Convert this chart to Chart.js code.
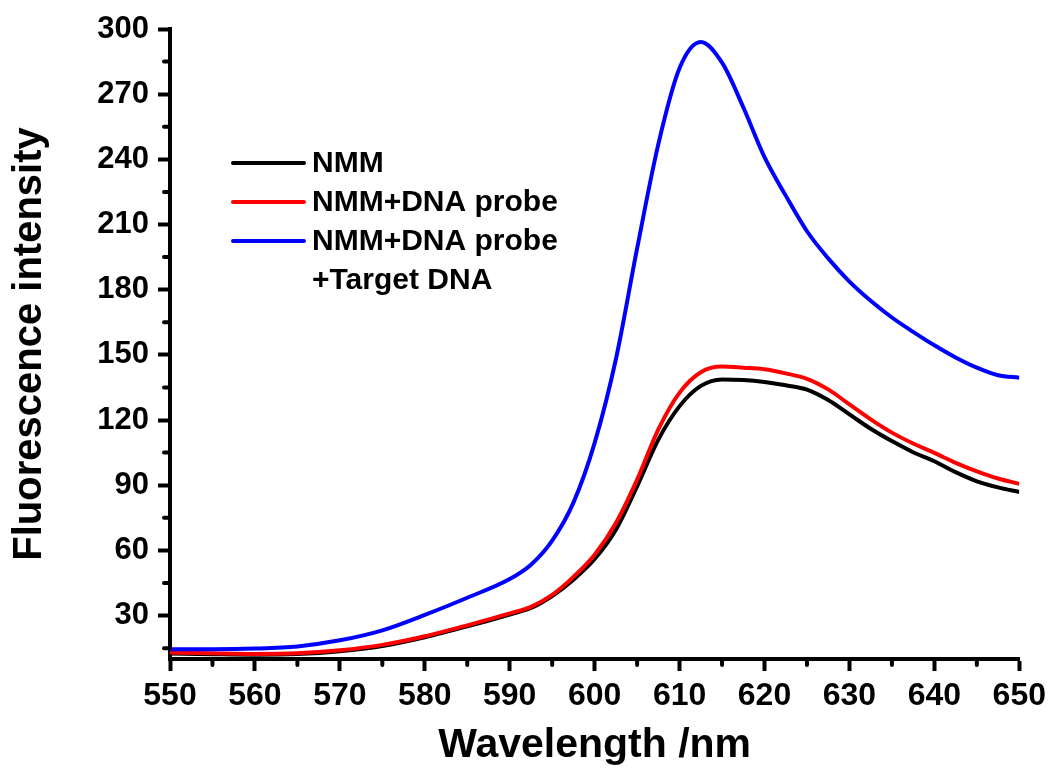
<!DOCTYPE html>
<html>
<head>
<meta charset="utf-8">
<script src="https://cdn.jsdelivr.net/npm/chart.js@4"></script>
<style>
  html, body { margin: 0; padding: 0; background: #fff; }
  #wrap { width: 1052px; height: 778px; }
</style>
</head>
<body>
<div id="wrap"><canvas id="chart" width="1052" height="778"></canvas></div>
<script>
// Fluorescence spectra
const wavelengths = [550, 555, 560, 565, 570, 575, 580, 585, 590, 592.5, 595, 597.5, 600, 602.5,
  605, 607.5, 610, 612.5, 615, 617.5, 620, 622.5, 625, 627.5, 630, 632.5, 635, 637.5,
  640, 642.5, 645, 647.5, 650];

const nmm = [12.5, 12.2, 12, 12.3, 13.6, 16, 20, 25, 30.5, 33.5, 39, 46.5, 56, 69.5,
  89.5, 111, 126.4, 135.7, 138.7, 138.4, 137.5, 136, 134, 129.2, 122.6, 116, 110.3, 105.2,
  101, 96, 91.8, 89, 86.9];

const nmmProbe = [13, 12.6, 12.3, 12.6, 14, 16.5, 20.5, 25.5, 31, 34, 39.5, 47.8, 58, 72.6,
  92.6, 115.7, 132.6, 142, 144.6, 144.1, 143.4, 141.5, 139, 134.1, 127.2, 120.3, 114.2, 109.2,
  104.9, 100.3, 96.4, 93.1, 90.6];

const nmmProbeTarget = [14.5, 14.5, 14.8, 15.8, 18.6, 23.2, 30.3, 38.2, 46.8, 53.4, 64.5, 82, 109.5, 148,
  199, 247, 282, 294, 284.5, 264, 241, 223.3, 206.9, 194.4, 183.7, 174.9, 167.2, 160.6,
  154.4, 148.8, 144.1, 140.6, 139.5];

const seriesLabels = [['NMM'], ['NMM+DNA probe'], ['NMM+DNA probe', '+Target DNA']];

const xTicks = [550, 560, 570, 580, 590, 600, 610, 620, 630, 640, 650];
const xMinorTicks = [555, 565, 575, 585, 595, 605, 615, 625, 635, 645];
const yTicks = [30, 60, 90, 120, 150, 180, 210, 240, 270, 300];
const yMinorTicks = [15, 45, 75, 105, 135, 165, 195, 225, 255, 285];

const FAMILY = '"Liberation Sans", Arial, sans-serif';

function toPoints(values) {
  return wavelengths.map((w, i) => ({ x: w, y: values[i] }));
}

// short outward ticks between the labelled ones
const minorTicks = {
  id: 'minorTicks',
  afterDraw(chart) {
    const { ctx, scales: { x, y } } = chart;
    ctx.save();
    ctx.strokeStyle = '#000';
    ctx.lineWidth = 4;
    ctx.lineCap = 'round';
    ctx.beginPath();
    xMinorTicks.forEach(v => {
      const px = x.getPixelForValue(v);
      ctx.moveTo(px, x.top);
      ctx.lineTo(px, x.top + 6);
    });
    yMinorTicks.forEach(v => {
      const py = y.getPixelForValue(v);
      ctx.moveTo(y.right, py);
      ctx.lineTo(y.right - 6, py);
    });
    ctx.stroke();
    ctx.restore();
  }
};

// legend sits inside the plot, third entry wraps onto two lines
const insideLegend = {
  id: 'insideLegend',
  afterDraw(chart) {
    const ctx = chart.ctx;
    ctx.save();
    ctx.font = 'bold 30px ' + FAMILY;
    ctx.textBaseline = 'middle';
    ctx.lineCap = 'round';
    let row = 0;
    chart.data.datasets.forEach((ds, i) => {
      const yPos = 163 + row * 39;
      ctx.strokeStyle = ds.borderColor;
      ctx.lineWidth = 4;
      ctx.beginPath();
      ctx.moveTo(233, yPos);
      ctx.lineTo(304, yPos);
      ctx.stroke();
      ctx.fillStyle = '#000';
      seriesLabels[i].forEach((t, k) => ctx.fillText(t, 312, yPos + 1 + k * 39));
      row += seriesLabels[i].length;
    });
    ctx.restore();
  }
};

new Chart(document.getElementById('chart'), {
  type: 'line',
  data: {
    datasets: [
      { label: 'NMM', data: toPoints(nmm), borderColor: '#000000', order: 2 },
      { label: 'NMM+DNA probe', data: toPoints(nmmProbe), borderColor: '#ff0000', order: 1 },
      { label: 'NMM+DNA probe +Target DNA', data: toPoints(nmmProbeTarget), borderColor: '#0000ff', order: 0 }
    ]
  },
  options: {
    responsive: false,
    animation: false,
    events: [],
    layout: { padding: { top: 29, right: 31, left: 0, bottom: 0 } },
    elements: {
      line: { borderWidth: 4, cubicInterpolationMode: 'monotone', fill: false },
      point: { radius: 0 }
    },
    plugins: {
      legend: { display: false },
      tooltip: { enabled: false }
    },
    scales: {
      x: {
        type: 'linear',
        min: 550,
        max: 650,
        afterBuildTicks: s => { s.ticks = xTicks.map(v => ({ value: v })); },
        afterFit: s => { s.height = 119; },
        grid: { drawOnChartArea: false, drawTicks: true, tickLength: 12, tickWidth: 4, tickColor: '#000' },
        border: { display: true, width: 4, color: '#000' },
        ticks: {
          autoSkip: false,
          maxRotation: 0,
          padding: 6,
          color: '#000',
          font: { family: FAMILY, weight: 'bold', size: 32 }
        },
        title: {
          display: true,
          text: 'Wavelength /nm',
          color: '#000',
          font: { family: FAMILY, weight: 'bold', size: 41 },
          padding: { top: 0, bottom: 8 }
        }
      },
      y: {
        type: 'linear',
        min: 10,
        max: 300,
        afterBuildTicks: s => { s.ticks = yTicks.map(v => ({ value: v })); },
        afterFit: s => { s.width = 170; },
        grid: { drawOnChartArea: false, drawTicks: true, tickLength: 12, tickWidth: 4, tickColor: '#000' },
        border: { display: true, width: 4, color: '#000' },
        ticks: {
          autoSkip: false,
          padding: 9,
          color: '#000',
          font: { family: FAMILY, weight: 'bold', size: 31 }
        },
        title: {
          display: true,
          text: 'Fluorescence intensity',
          color: '#000',
          font: { family: FAMILY, weight: 'bold', size: 40 },
          padding: { top: 6, bottom: 0 }
        }
      }
    }
  },
  plugins: [minorTicks, insideLegend]
});
</script>
</body>
</html>
